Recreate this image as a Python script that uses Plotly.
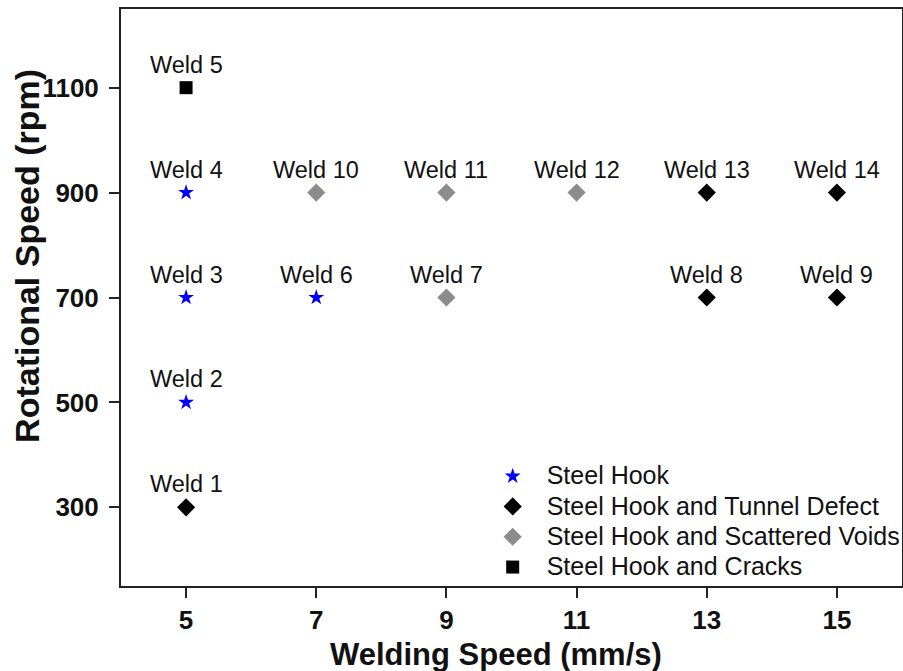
import plotly.graph_objects as go

# Data
weld_labels = ["Weld 1", "Weld 2", "Weld 3", "Weld 4", "Weld 5", "Weld 6", "Weld 7",
               "Weld 8", "Weld 9", "Weld 10", "Weld 11", "Weld 12", "Weld 13", "Weld 14"]
welding_speed = [5, 5, 5, 5, 5, 7, 9, 13, 15, 7, 9, 11, 13, 15]
rotational_speed = [300, 500, 700, 900, 1100, 700, 700, 700, 700, 900, 900, 900, 900, 900]
defect_type = ["Tunnel", "Hook", "Hook", "Hook", "Cracks", "Hook", "Voids",
               "Tunnel", "Tunnel", "Voids", "Voids", "Voids", "Tunnel", "Tunnel"]

categories = ["Hook", "Tunnel", "Voids", "Cracks"]
category_names = ["Steel Hook", "Steel Hook and Tunnel Defect",
                  "Steel Hook and Scattered Voids", "Steel Hook and Cracks"]
category_symbols = ["star", "diamond", "diamond", "square"]
category_colors = ["#0000FF", "#000000", "#8C8C8C", "#000000"]
category_sizes = [12, 14, 14, 13]

x_ticks = [5, 7, 9, 11, 13, 15]
y_ticks = [300, 500, 700, 900, 1100]

FONT = "Arial, Liberation Sans, sans-serif"
TXT = "#111111"

fig = go.Figure()
for cat, name, sym, col, sz in zip(categories, category_names, category_symbols,
                                    category_colors, category_sizes):
    xs = [x for x, d in zip(welding_speed, defect_type) if d == cat]
    ys = [y for y, d in zip(rotational_speed, defect_type) if d == cat]
    fig.add_trace(go.Scatter(
        x=xs, y=ys, mode="markers",
        name=f"<span style='font-size:25px'>{name}</span>",
        marker=dict(symbol=sym, color=col, size=sz, line=dict(width=0))))

for lab, x, y in zip(weld_labels, welding_speed, rotational_speed):
    fig.add_annotation(x=x, y=y, text=lab, showarrow=False, yshift=23,
                       font=dict(family=FONT, size=23.5, color=TXT))

# axis titles
fig.add_annotation(x=0.48, y=-0.118, xref="paper", yref="paper", showarrow=False,
                   text="<b>Welding Speed (mm/s)</b>", xanchor="center", yanchor="middle",
                   font=dict(family=FONT, size=31, color=TXT))
fig.add_annotation(x=-0.1204, y=0.572, xref="paper", yref="paper", showarrow=False,
                   text="<b>Rotational Speed (rpm)</b>", textangle=-90,
                   xanchor="center", yanchor="middle",
                   font=dict(family=FONT, size=34, color=TXT))

axis_common = dict(showline=True, linecolor="#222222", linewidth=2, mirror=True,
                   ticks="outside", ticklen=10, tickwidth=2, tickcolor="#222222",
                   showgrid=False, zeroline=False,
                   tickfont=dict(family=FONT, size=26, color=TXT, weight="bold"))

fig.update_xaxes(range=[4, 16], tickvals=x_ticks, ticktext=[str(v) for v in x_ticks],
                 **axis_common)
fig.update_yaxes(range=[150, 1250], tickvals=y_ticks, ticktext=[str(v) for v in y_ticks],
                 ticklabelstandoff=5, **axis_common)

fig.update_layout(
    width=903, height=671,
    margin=dict(l=121, r=1, t=9, b=85, autoexpand=False),
    plot_bgcolor="white", paper_bgcolor="white",
    legend=dict(x=0.458, y=-0.0035, xanchor="left", yanchor="bottom",
                font=dict(family=FONT, size=21, color=TXT),
                bgcolor="rgba(0,0,0,0)", itemwidth=58),
)

fig.write_html("out.html")
